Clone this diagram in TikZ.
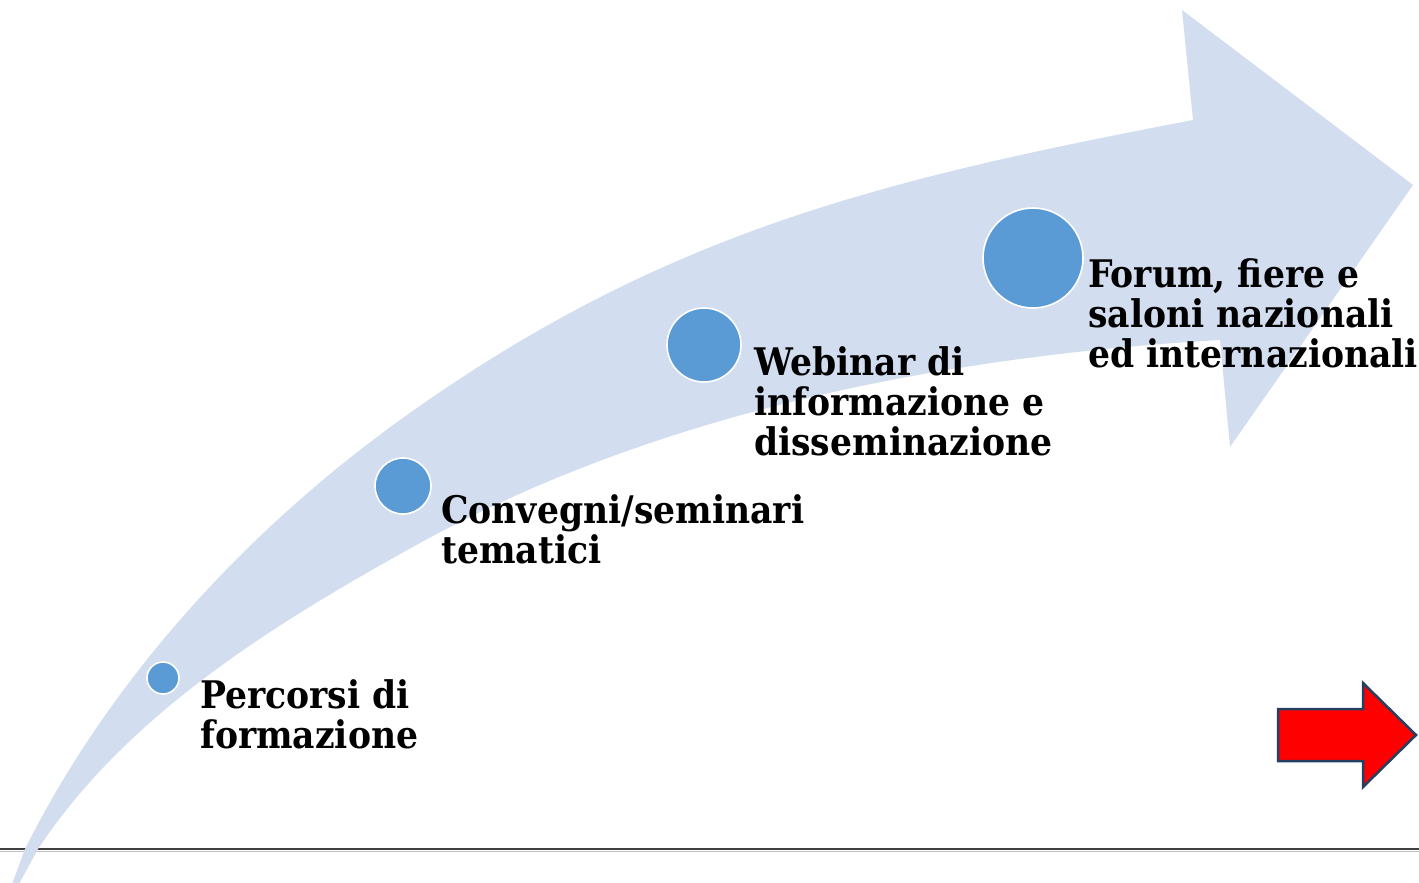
\documentclass[tikz,border=0pt]{standalone}
\usepackage{fontspec}
\newfontfamily\lblfont{DejaVu Serif}[FakeStretch=0.91]
\begin{document}
\begin{tikzpicture}[x=1pt,y=-1pt,
  band/.style={fill=bandblue,draw=none},
  dot/.style={circle,fill=dotblue,draw=white,line width=1.6pt,inner sep=0pt},
  lbl/.style={anchor=base west,align=left,inner sep=0pt,font=\lblfont\bfseries\fontsize{38pt}{40pt}\selectfont},
  redarrow/.style={fill=red,draw=arrowedge,line width=2.5pt,line join=miter}]
\definecolor{bandblue}{HTML}{D2DEEF}
\definecolor{dotblue}{HTML}{5B9BD5}
\definecolor{arrowedge}{HTML}{243F60}
\useasboundingbox (0,0) rectangle (1419,883);
\begin{scope}
\clip (0,0) rectangle (1419,883);
% baseline rule
\coordinate (ruleL) at (0,849);
\coordinate (ruleR) at (1419,849);
\draw[color=black!75,line width=2.5pt] (ruleL) -- (ruleR);
\draw[color=black!25,line width=1pt] ([yshift=-2pt]ruleL) -- ([yshift=-2pt]ruleR);
% curved arrow band
\fill[band]
  (4,906) -- (25,849)
  .. controls (110,679) and (246,531) .. (400,420)
  .. controls (660,233) and (879,180) .. (1193,120)
  -- (1182,10) -- (1413,185) -- (1230,447) -- (1220,340)
  .. controls (946,356) and (661,411) .. (420,543)
  .. controls (277,622) and (128,713) .. (38,849)
  -- (7,906) -- cycle;
\end{scope}
% dots
\node[dot,minimum size=32pt] (d1) at (163,678) {};
\node[dot,minimum size=56pt] (d2) at (403,486) {};
\node[dot,minimum size=74pt] (d3) at (704,345) {};
\node[dot,minimum size=100pt] (d4) at (1033,258) {};
% labels (positioned at the baseline of their last line)
\node[lbl] (t1) at (200,748) {Percorsi di\\formazione};
\node[lbl] (t2) at (441,563) {Convegni/seminari\\tematici};
\node[lbl] (t3) at (754,455) {Webinar di\\informazione e\\disseminazione};
\node[lbl] (t4) at (1088,367) {Forum, fiere e\\saloni nazionali\\ed internazionali};
% red arrow
\draw[redarrow] (1278,709) -- (1363,709) -- (1363,683) -- (1416,735) -- (1363,787) -- (1363,761) -- (1278,761) -- cycle;
\end{tikzpicture}
\end{document}
